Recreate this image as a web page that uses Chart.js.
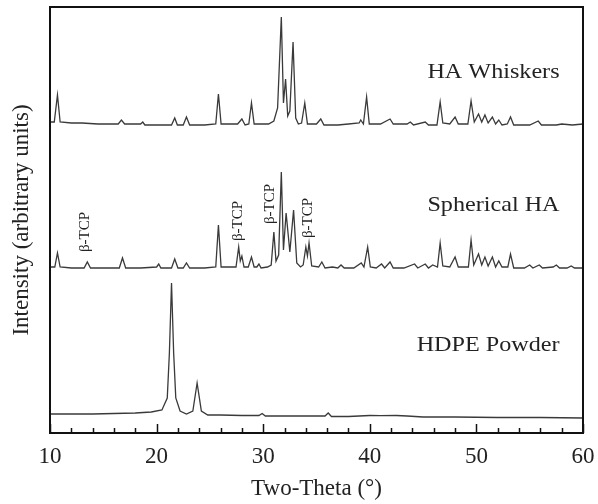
<html>
  <head>
    <title>XRD patterns</title>
    <style>
      body {
        margin: 0;
        background: #fff;
      }
    </style>
    <script src="https://cdn.jsdelivr.net/npm/chart.js@4/dist/chart.umd.min.js"></script>
  </head>
  <body>
    <canvas id="canvas" width="598" height="504"></canvas>
    <script>
      // two-theta / intensity (arbitrary, stacked)
      const whiskersTheta = [
        10.0, 10.4, 10.7, 10.95, 12.0, 13.0, 14.5, 16.4, 16.7, 17.0, 18.5, 18.7, 18.9, 20.0, 21.4, 21.7, 21.95,
        22.5, 22.8, 23.1, 24.5, 25.55, 25.8, 26.05, 27.6, 28.0, 28.3, 28.65, 28.9, 29.15, 30.5, 31.0, 31.35,
        31.7, 31.9, 32.1, 32.3, 32.5, 32.8, 33.05, 33.3, 33.6, 33.9, 34.15, 35.0, 35.4, 35.7, 37.0, 38.0, 39.0,
        39.15, 39.4, 39.7, 39.95, 41.0, 41.9, 42.2, 43.5, 43.8, 44.1, 45.2, 45.5, 46.3, 46.6, 46.85, 47.5, 48.0,
        48.3, 49.2, 49.5, 49.8, 50.2, 50.5, 50.8, 51.1, 51.5, 51.8, 52.1, 52.4, 52.9, 53.2, 53.5, 55.0, 55.8,
        56.1, 57.5, 58.0, 59.0, 60.0,
      ];
      const whiskersIntensity = [
        311, 311, 338, 311, 310, 310, 309, 309, 313, 309, 309, 311, 308, 308, 308, 315, 308,
        308, 316, 308, 308, 309, 339, 309, 309, 314, 308, 309, 330, 309, 309, 312, 325,
        416, 330, 354, 317, 322, 391, 315, 309, 310, 330, 309, 309, 314, 308, 308, 309, 310,
        313, 309, 336, 309, 309, 314, 309, 309, 311, 308, 311, 308, 308, 331, 310, 309, 316,
        309, 309, 332, 311, 319, 311, 318, 310, 316, 309, 313, 308, 309, 316, 308, 308, 312,
        308, 308, 309, 308, 309,
      ];

      const sphericalTheta = [
        10.0, 10.45, 10.7, 10.95, 12.0, 13.2, 13.5, 13.8, 15.0, 16.5, 16.8, 17.1, 18.5, 20.0, 20.2, 20.4, 21.4,
        21.7, 22.0, 22.5, 22.8, 23.1, 24.5, 25.55, 25.8, 26.05, 27.2, 27.45, 27.7, 27.85, 28.0, 28.2, 28.6,
        28.9, 29.15, 29.4, 29.6, 29.8, 30.4, 30.75, 31.0, 31.2, 31.45, 31.7, 31.9, 32.15, 32.5, 32.85, 33.15,
        33.5, 33.75, 34.0, 34.15, 34.3, 34.55, 35.2, 35.5, 35.8, 36.5, 37.0, 37.3, 37.6, 38.5, 39.2, 39.45,
        39.8, 40.05, 40.6, 41.1, 41.4, 41.9, 42.2, 43.2, 44.2, 44.5, 45.2, 45.5, 45.9, 46.35, 46.6, 46.85,
        47.5, 48.0, 48.3, 49.25, 49.5, 49.75, 50.2, 50.5, 50.8, 51.1, 51.5, 51.8, 52.1, 52.4, 52.95, 53.2,
        53.5, 54.5, 55.0, 55.3, 55.9, 56.2, 57.2, 57.5, 57.8, 58.5, 58.9, 59.2, 60.0,
      ];
      const sphericalIntensity = [
        166, 166, 180, 166, 165, 165, 171, 165, 165, 165, 175, 165, 165, 166, 169, 165, 165,
        174, 165, 165, 170, 165, 165, 166, 208, 166, 166, 166, 186, 172, 177, 166, 166,
        176, 166, 166, 169, 165, 166, 168, 201, 172, 178, 261, 183, 220, 181, 223, 170,
        166, 168, 186, 177, 190, 167, 166, 171, 165, 166, 165, 168, 165, 165, 170, 166,
        186, 166, 165, 169, 165, 171, 165, 165, 169, 165, 169, 165, 168, 166, 190, 167,
        166, 176, 166, 166, 193, 168, 179, 168, 176, 167, 176, 166, 172, 166, 166, 179,
        165, 165, 168, 165, 168, 165, 166, 168, 165, 165, 167, 165, 165,
      ];

      const hdpeTheta = [
        10.0, 12.0, 14.0, 16.0, 18.0, 19.5, 20.5, 21.0, 21.2, 21.4, 21.6, 21.8, 22.2, 22.8, 23.4, 23.8, 24.2,
        24.8, 26.0, 28.0, 29.6, 29.9, 30.2, 32.0, 34.0, 35.8, 36.1, 36.4, 38.0, 40.0, 41.0, 42.5, 43.5, 45.0,
        48.0, 52.0, 56.0, 60.0,
      ];
      const hdpeIntensity = [
        19, 19, 19, 19.5, 20, 21, 23, 35, 80, 150, 80, 35, 22, 19, 22, 50, 22,
        18, 18, 17.5, 17.5, 19.5, 17, 17, 17, 17, 20, 16.5, 16.5, 17.5, 17.3, 17.5, 17, 16,
        16, 15.5, 15.5, 15,
      ];

      const sampleNames = ['HA Whiskers', 'Spherical HA', 'HDPE Powder'];
      const sampleLabelAt = [[57.8, 361], [57.8, 228], [57.8, 88]];
      const tcpLabelAt = [[13.3, 201], [27.6, 212], [30.6, 229], [34.2, 215]];

      const serif = 'Liberation Serif';
      const ink = '#222';

      const toPoints = (xs, ys) => xs.map((x, i) => ({ x: x, y: ys[i] }));

      const lineSet = (name, xs, ys) => ({
        label: name,
        data: toPoints(xs, ys),
        borderColor: '#3a3a3a',
        borderWidth: 1.3,
        pointRadius: 0,
        tension: 0,
        fill: false,
      });

      // frame, inward ticks and the text labels inside the plot
      const decorations = {
        id: 'decorations',
        afterDraw(chart) {
          const { ctx, chartArea: a, scales } = chart;
          const x = scales.x;
          const y = scales.y;
          ctx.save();
          ctx.strokeStyle = '#111';
          ctx.lineWidth = 1.5;
          for (let v = 10; v <= 60; v += 2) {
            const px = Math.round(x.getPixelForValue(v)) + 0.5;
            const len = v % 10 === 0 ? 9 : 5;
            ctx.beginPath();
            ctx.moveTo(px, a.bottom);
            ctx.lineTo(px, a.bottom - len);
            ctx.stroke();
          }
          ctx.lineWidth = 2;
          ctx.strokeRect(a.left, a.top, a.right - a.left, a.bottom - a.top);

          ctx.fillStyle = ink;
          ctx.font = '21px "' + serif + '"';
          ctx.textAlign = 'right';
          ctx.textBaseline = 'middle';
          sampleNames.forEach((t, i) => {
            // the scanned figure is a little wider than tall, so stretch the text sideways
            ctx.save();
            ctx.translate(x.getPixelForValue(sampleLabelAt[i][0]), y.getPixelForValue(sampleLabelAt[i][1]));
            ctx.scale(1.15, 1);
            ctx.fillText(t, 0, 0);
            ctx.restore();
          });

          ctx.font = '15px "' + serif + '"';
          ctx.textAlign = 'center';
          tcpLabelAt.forEach((p) => {
            ctx.save();
            ctx.translate(x.getPixelForValue(p[0]), y.getPixelForValue(p[1]));
            ctx.rotate(-Math.PI / 2);
            ctx.fillText('β-TCP', 0, 0);
            ctx.restore();
          });
          ctx.restore();
        },
      };

      new Chart(document.getElementById('canvas'), {
        type: 'line',
        data: {
          datasets: [
            lineSet(sampleNames[0], whiskersTheta, whiskersIntensity),
            lineSet(sampleNames[1], sphericalTheta, sphericalIntensity),
            lineSet(sampleNames[2], hdpeTheta, hdpeIntensity),
          ],
        },
        options: {
          responsive: false,
          animation: false,
          layout: { padding: { top: 7, right: 15, bottom: 0, left: 0 } },
          plugins: {
            legend: { display: false },
            tooltip: { enabled: false },
          },
          scales: {
            x: {
              type: 'linear',
              min: 10,
              max: 60,
              // the last tick label only needs half its width, not the tick padding too
              afterFit: (scale) => {
                scale.paddingRight = 12;
              },
              ticks: {
                stepSize: 10,
                padding: 10.5,
                color: ink,
                font: { family: serif, size: 23 },
              },
              grid: { display: false, drawTicks: false, tickLength: 0 },
              border: { display: false },
              title: {
                display: true,
                text: 'Two-Theta (°)',
                color: ink,
                font: { family: serif, size: 23 },
                padding: { top: -6.2, bottom: 1 },
              },
            },
            y: {
              min: 0,
              max: 426,
              ticks: { display: false },
              grid: { display: false, drawTicks: false, tickLength: 0 },
              border: { display: false },
              title: {
                display: true,
                text: 'Intensity (arbitrary units)',
                color: ink,
                font: { family: serif, size: 23 },
                padding: { top: 8.2, bottom: 14.2 },
              },
            },
          },
        },
        plugins: [decorations],
      });
    </script>
  </body>
</html>
